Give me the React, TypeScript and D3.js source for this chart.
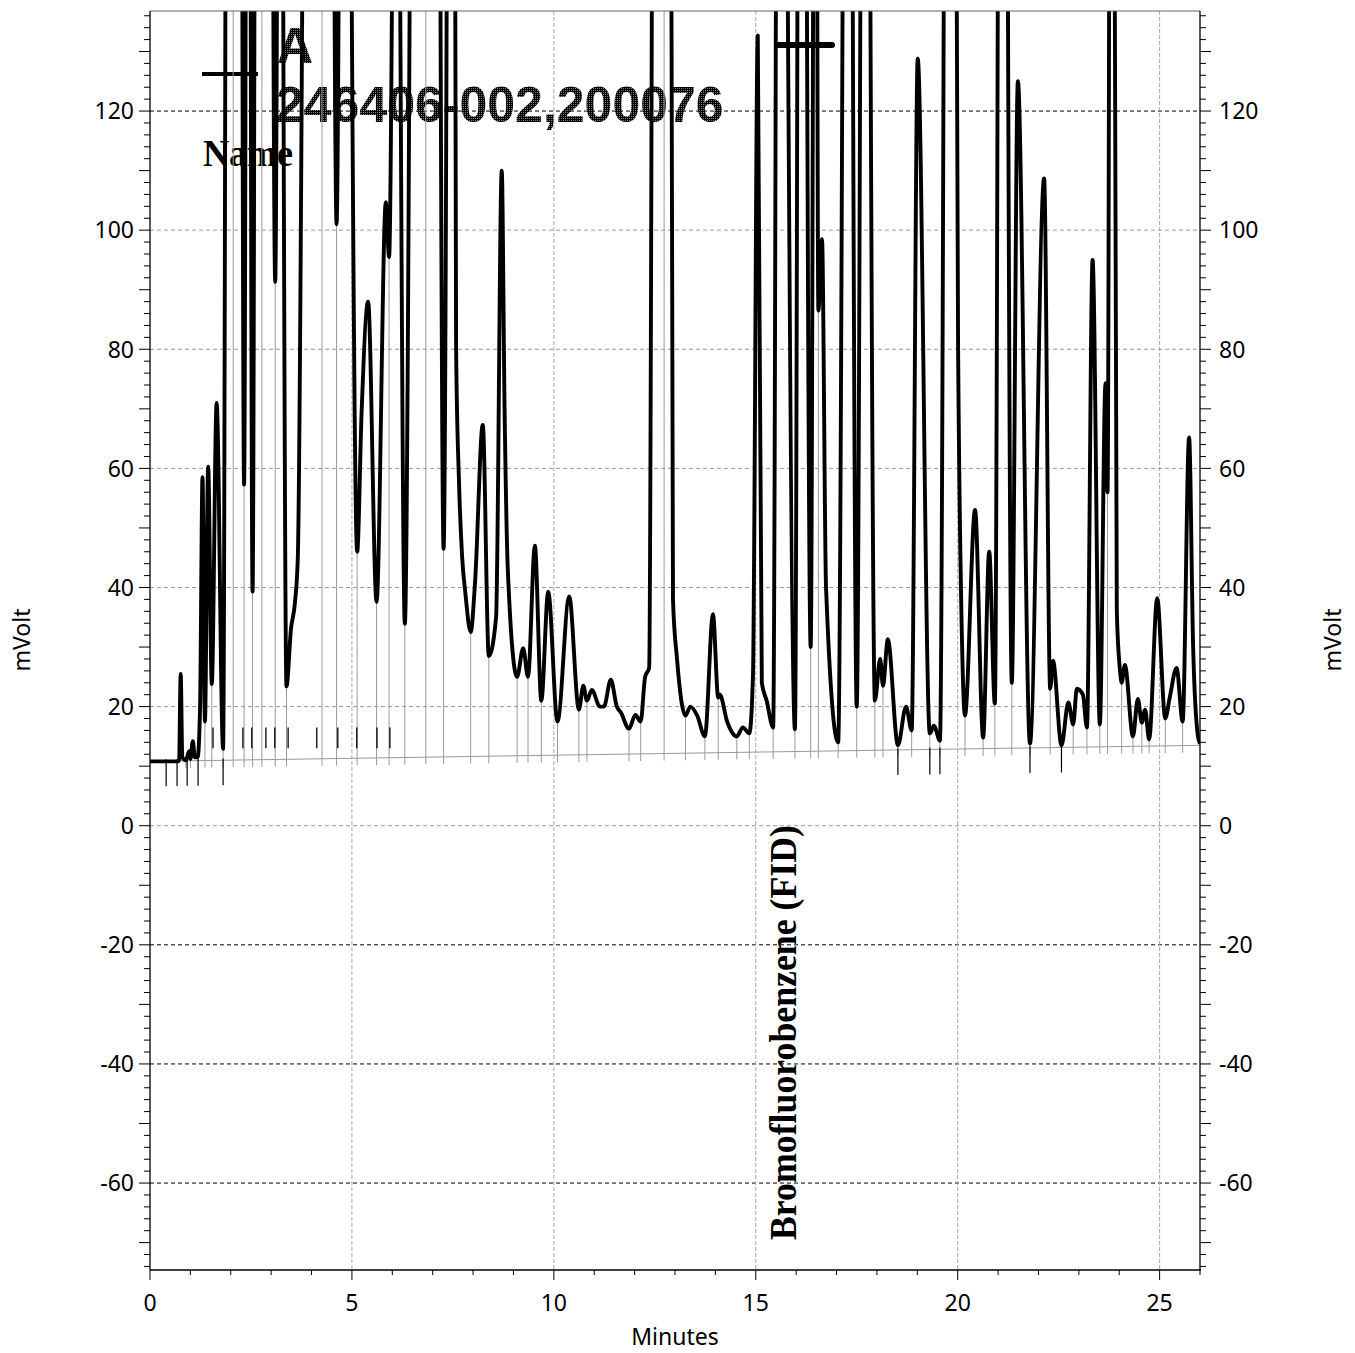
import React from 'react';
import * as d3 from 'd3';

// ---- data (retention time in minutes, detector signal in mVolt) ----
const times = [
  0.0, 0.69, 0.72, 0.76, 0.8, 0.89, 0.97, 1.0, 1.06, 1.11, 1.18, 1.24, 1.3, 1.36, 1.44, 1.53, 1.65, 1.81,
  1.92, 2.06, 2.22, 2.33, 2.43, 2.54, 2.65, 2.77, 2.95, 3.1, 3.22, 3.38, 3.49, 3.59, 3.66, 3.96, 4.26, 4.46,
  4.62, 4.8, 5.13, 5.24, 5.4, 5.61, 5.84, 5.92, 6.1, 6.31, 6.59, 6.83, 7.08, 7.27, 7.48, 7.58, 7.65, 7.73,
  7.81, 7.94, 8.05, 8.24, 8.39, 8.57, 8.71, 8.78, 8.86, 9.09, 9.24, 9.36, 9.53, 9.69, 9.86, 10.09, 10.38,
  10.62, 10.73, 10.82, 10.94, 11.14, 11.24, 11.41, 11.56, 11.66, 11.86, 12.02, 12.15, 12.26, 12.36, 12.53,
  12.73, 12.85, 12.95, 13.05, 13.26, 13.38, 13.55, 13.74, 13.94, 14.07, 14.11, 14.29, 14.53, 14.68, 14.84,
  14.93, 15.05, 15.15, 15.27, 15.43, 15.58, 15.97, 16.12, 16.36, 16.48, 16.55, 16.64, 16.74, 17.04, 17.28,
  17.5, 17.7, 17.95, 18.08, 18.15, 18.27, 18.52, 18.72, 18.86, 19.01, 19.31, 19.41, 19.56, 19.81, 20.01,
  20.11, 20.18, 20.43, 20.63, 20.78, 20.92, 21.1, 21.34, 21.49, 21.79, 22.14, 22.29, 22.36, 22.57, 22.74,
  22.86, 22.95, 23.1, 23.2, 23.34, 23.52, 23.66, 23.71, 23.81, 23.94, 24.02, 24.06, 24.14, 24.34, 24.46,
  24.56, 24.64, 24.74, 24.94, 25.14, 25.25, 25.42, 25.57, 25.73, 25.83, 25.95, 26.0,
];
const values = [
  10.8, 10.8, 11.0, 25.5, 11.5, 11.0, 12.5, 11.2, 14.2, 11.5, 11.5, 20, 58.5, 17.5, 60.3, 23.8, 71, 12.9,
  250, 160, 300, 57.3, 300, 39.3, 300, 170, 300, 91.3, 250, 23.4, 33, 37.5, 45, 320, 200, 260,
  101, 300, 46, 69.5, 88, 37.6, 104.7, 95.5, 220, 33.9, 300, 180, 300, 46.5, 350, 80, 58, 45,
  39, 32.5, 41, 67.3, 28.5, 35, 110, 70, 43, 25, 29.8, 25, 47, 21, 39.3, 17.5, 38.5,
  19.5, 23.5, 21, 22.8, 20, 20, 24.5, 20, 19, 16.3, 18.6, 17.5, 25, 26.5, 350,
  200, 300, 38, 28, 18.5, 20, 18.5, 15, 35.5, 21.5, 22, 17.5, 15, 16.5, 15.5,
  25, 132.7, 24, 21, 16.5, 300, 16.2, 350, 30, 250, 86.5, 98.5, 40, 14, 300,
  20, 300, 21, 28, 23.5, 31.3, 13.5, 20, 16, 128.8, 15.5, 16.8, 14.3, 400, 80,
  30, 18.5, 53, 14.8, 46, 20.5, 350, 24, 125, 13.8, 108.7, 23, 27.7, 13.5, 20.7,
  17, 23, 22, 16.5, 95, 17, 74.3, 56, 300, 36, 26, 24, 27, 15, 21.3,
  17.3, 19.5, 14.5, 38.2, 18, 21.5, 26.5, 17.5, 65.2, 30, 15, 13.8,
];
const baselineTimes = [0, 26];
const baselineValues = [10.8, 13.5];
const xTicks = [0, 5, 10, 15, 20, 25];
const yTicks = [-60, -40, -20, 0, 20, 40, 60, 80, 100, 120];
const darkGridValues = [120, -20, -40, -60];
const eventMarksAbove = [1.56, 2.3, 2.52, 2.87, 3.09, 3.42, 4.13, 4.65, 5.12, 5.62, 5.94];
const eventMarksBelow = [0.4, 0.67, 0.92, 1.19, 1.81, 18.52, 19.31, 19.56, 21.79, 22.57];
const legendName = 'A';
const sampleName = '246406-002,200076';
const peakName = 'Bromofluorobenzene (FID)';

const W = 1355;
const H = 1353;
const L = 150, R = 1200, T = 11, B = 1270;
const SANS = '"Noto Sans", "Liberation Sans", Arial, sans-serif';
const SERIF = '"Liberation Serif", "Times New Roman", serif';
const BOLDSANS = '"Liberation Sans", Arial, sans-serif';
const LABEL_FS = 23;

export default function App() {
  const x = d3.scaleLinear().domain([0, 26]).range([L, R]);
  const y = d3.scaleLinear().domain([-74.6, 136.8]).range([B, T]);
  const base = d3.scaleLinear().domain(baselineTimes).range(baselineValues);

  const pts: [number, number][] = times.map((t, i) => [t, values[i]]);
  const line = d3
    .line<[number, number]>()
    .x((d) => x(d[0]))
    .y((d) => y(d[1]))
    .curve(d3.curveMonotoneX);
  const tracePath = line(pts) || '';

  // valleys -> peak start/stop markers
  const valleyIdx: number[] = [];
  for (let i = 1; i < values.length - 1; i++) {
    if (values[i] < values[i - 1] && values[i] < values[i + 1]) valleyIdx.push(i);
  }

  const minorY = d3.range(-74, 137, 2);
  const minorX = d3.range(0, 27, 1);

  return (
    <svg
      width={W}
      height={H}
      style={{ position: 'absolute', left: 0, top: 0, background: '#fff' }}
      xmlns="http://www.w3.org/2000/svg"
    >
      <defs>
        <clipPath id="plotClip">
          <rect x={L} y={T} width={R - L} height={B - T} />
        </clipPath>
        <pattern id="dither" width={2} height={2} patternUnits="userSpaceOnUse">
          <rect x={0} y={0} width={2} height={2} fill="#000" />
          <rect x={1} y={0} width={1} height={1} fill="#777" />
        </pattern>
      </defs>
      <rect x={0} y={0} width={W} height={H} fill="#fff" />

      {/* grid */}
      {yTicks.map((v) => (
        <line
          key={'gy' + v}
          x1={L}
          x2={R}
          y1={y(v)}
          y2={y(v)}
          stroke={darkGridValues.includes(v) ? '#000' : '#999'}
          strokeWidth={1}
          strokeDasharray="4,3"
        />
      ))}
      {xTicks.filter((t) => t > 0).map((t) => (
        <line
          key={'gx' + t}
          x1={x(t)}
          x2={x(t)}
          y1={T}
          y2={B}
          stroke="#aaa"
          strokeWidth={1}
          strokeDasharray="4,2"
        />
      ))}

      {/* legend texts (behind trace) */}
      <line x1={202} x2={258} y1={74} y2={74} stroke="#000" strokeWidth={4} />
      <line x1={777} x2={832} y1={45} y2={45} stroke="#000" strokeWidth={6} strokeLinecap="round" />
      <text x={277} y={63} fontFamily={BOLDSANS} fontWeight="bold" fontSize={50} fill="url(#dither)">
        {legendName}
      </text>
      <text x={276} y={122} fontFamily={BOLDSANS} fontWeight="bold" fontSize={50} fill="url(#dither)">
        {sampleName}
      </text>
      <text x={203} y={166} fontFamily={SERIF} fontWeight="bold" fontSize={37} fill="#000" textLength={90} lengthAdjust="spacingAndGlyphs">
        Name
      </text>

      <g clipPath="url(#plotClip)">
        {/* baseline */}
        <line
          x1={x(baselineTimes[0])}
          x2={x(baselineTimes[1])}
          y1={y(baselineValues[0])}
          y2={y(baselineValues[1])}
          stroke="#999"
          strokeWidth={1}
        />
        {/* peak boundary markers */}
        {valleyIdx.map((i) => (
          <line
            key={'m' + i}
            x1={x(times[i])}
            x2={x(times[i])}
            y1={y(base(times[i]) - 1.2)}
            y2={y(Math.min(values[i], 140))}
            stroke="#9a9a9a"
            strokeWidth={1}
          />
        ))}
        {eventMarksAbove.map((t) => (
          <line key={'ea' + t} x1={x(t)} x2={x(t)} y1={y(13)} y2={y(16.5)} stroke="#000" strokeWidth={1.3} />
        ))}
        {eventMarksBelow.map((t) => (
          <line
            key={'eb' + t}
            x1={x(t)}
            x2={x(t)}
            y1={y(base(t) + 0.3)}
            y2={y(base(t) - 4.2)}
            stroke="#000"
            strokeWidth={1.2}
          />
        ))}
        {/* trace */}
        <path d={tracePath} fill="none" stroke="#000" strokeWidth={3.9} strokeLinejoin="round" />
      </g>

      {/* frame */}
      <line x1={L} x2={R} y1={T} y2={T} stroke="#666" strokeWidth={1} />
      <line x1={L} x2={L} y1={T} y2={B} stroke="#000" strokeWidth={1.3} />
      <line x1={R} x2={R} y1={T} y2={B} stroke="#000" strokeWidth={1.3} />
      <line x1={L} x2={R + 1} y1={B} y2={B} stroke="#000" strokeWidth={1.3} />

      {/* y ticks left & right */}
      {minorY.map((v) => {
        const len = v % 10 === 0 ? 11 : 6;
        return (
          <g key={'ty' + v}>
            <line x1={L - len} x2={L} y1={y(v)} y2={y(v)} stroke="#000" strokeWidth={1} />
            <line x1={R} x2={R + len} y1={y(v)} y2={y(v)} stroke="#000" strokeWidth={1} />
          </g>
        );
      })}
      {yTicks.map((v) => (
        <g key={'ly' + v} fontFamily={SANS} fontSize={LABEL_FS} fill="#000">
          <text x={134} y={y(v)} dy="0.36em" textAnchor="end">
            {v}
          </text>
          <text x={1219} y={y(v)} dy="0.36em" textAnchor="start">
            {v}
          </text>
        </g>
      ))}

      {/* x ticks */}
      {minorX.map((t) => (
        <line
          key={'tx' + t}
          x1={x(t)}
          x2={x(t)}
          y1={B}
          y2={B + (t % 5 === 0 ? 10 : 5)}
          stroke="#000"
          strokeWidth={1}
        />
      ))}
      {xTicks.map((t) => (
        <text key={'lx' + t} x={x(t)} y={1311} textAnchor="middle" fontFamily={SANS} fontSize={LABEL_FS} fill="#000">
          {t}
        </text>
      ))}

      {/* axis titles */}
      <text x={675} y={1345} textAnchor="middle" fontFamily={SANS} fontSize={LABEL_FS} fill="#000">
        Minutes
      </text>
      <text
        transform={`translate(30,640) rotate(-90)`}
        textAnchor="middle"
        fontFamily={SANS}
        fontSize={LABEL_FS}
        fill="#000"
      >
        mVolt
      </text>
      <text
        transform={`translate(1341,640) rotate(-90)`}
        textAnchor="middle"
        fontFamily={SANS}
        fontSize={LABEL_FS}
        fill="#000"
      >
        mVolt
      </text>

      {/* peak label */}
      <text
        transform={`translate(796,1240) rotate(-90)`}
        textAnchor="start"
        fontFamily={SERIF}
        fontWeight="bold"
        fontSize={37}
        fill="#000"
        textLength={415}
        lengthAdjust="spacingAndGlyphs"
      >
        {peakName}
      </text>
    </svg>
  );
}
